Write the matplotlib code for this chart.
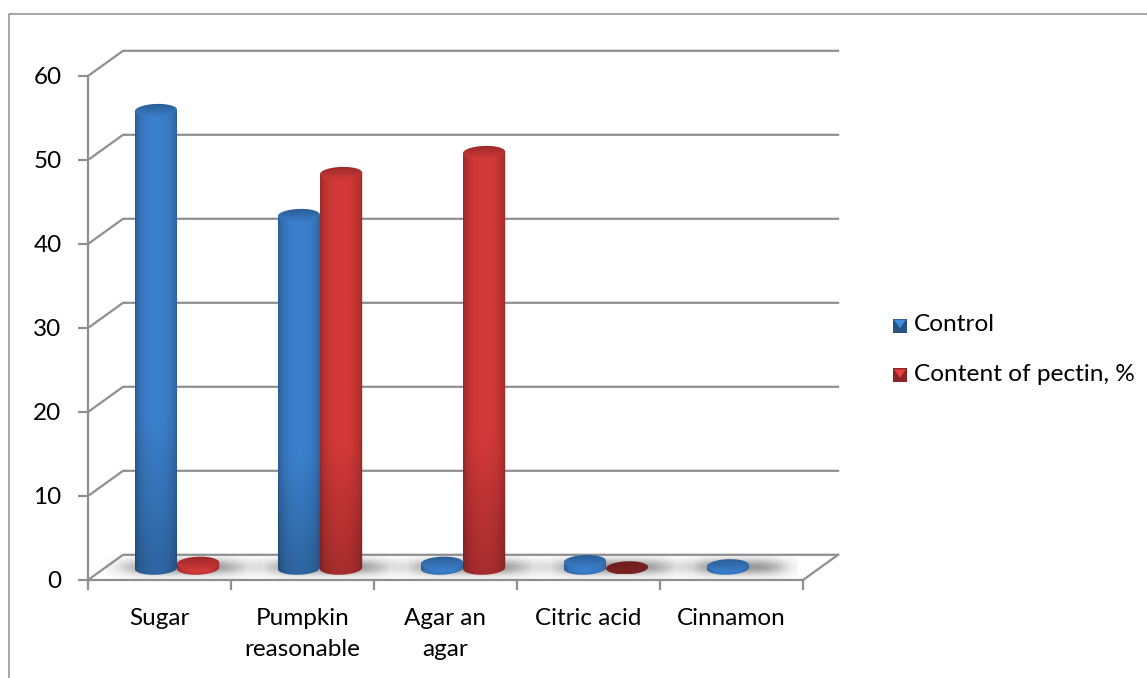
import numpy as np
import matplotlib
matplotlib.use('Agg')
import matplotlib.pyplot as plt
from matplotlib.patches import PathPatch, Polygon, Rectangle
from matplotlib.path import Path
from matplotlib.legend_handler import HandlerBase
from matplotlib.lines import Line2D

plt.rcParams['font.family'] = ['Lato', 'DejaVu Sans']

categories = ['Sugar', 'Pumpkin\nreasonable', 'Agar an\nagar', 'Citric acid', 'Cinnamon']
control = [54.5, 42, 0.6, 0.8, 0.3]
pectin = [0.6, 47, 49.5, 0.05, None]
y_ticks = [0, 10, 20, 30, 40, 50, 60]
series_names = ['Control', 'Content of pectin, %']

BLUE = np.array([58, 125, 200]) / 255
RED = np.array([208, 56, 56]) / 255
GREY = '#8f8f8f'

W, H = 1147, 678
# chart depth and bar size, in data units (1 category = 143 px, 1 y unit = 8.4 px)
DX, DY = 0.245, 3.0
BAR_W = 0.295
ELL_H = 1.55
TILT = 0.6  # the ellipses lean up to the right a little


def ellipse_xy(x, y):
    theta = np.linspace(0, 2 * np.pi, 80)
    xs = x + BAR_W / 2 * np.cos(theta)
    ys = y + ELL_H / 2 * np.sin(theta) + TILT * (xs - x)
    return np.c_[xs, ys]


def top_cap(ax, x, y, c_top, c_bottom, z):
    # ellipse filled with a vertical gradient
    pts = ellipse_xy(x, y)
    clip = PathPatch(Path(pts), fc='none', ec='none', transform=ax.transData)
    ax.add_patch(clip)
    v = np.linspace(0, 1, 30)[:, None, None]
    img = (1 - v) * c_top + v * c_bottom
    im = ax.imshow(img, extent=[x - BAR_W / 2, x + BAR_W / 2, pts[:, 1].min(), pts[:, 1].max()],
                   aspect='auto', zorder=z, interpolation='bilinear')
    im.set_clip_path(clip)


def cylinder(ax, x, val, color, z):
    left, right = x - BAR_W / 2, x + BAR_W / 2
    base = DY / 2 - 0.1
    top = base + val
    if val > 0.2:
        # side of the cylinder, shaded across and darker near the floor
        u = np.linspace(-1, 1, 60)
        across = 0.55 + 0.47 * np.sqrt(1 - (u * 0.97) ** 2) ** 0.7
        v = np.linspace(0, 1, 80)
        down = 0.78 + 0.22 * np.clip(v * 3, 0, 1)
        img = np.clip(np.outer(down[::-1], across)[:, :, None] * color, 0, 1)
        theta = np.linspace(np.pi, 2 * np.pi, 40)
        xs = np.r_[x + BAR_W / 2 * np.cos(theta), right, left]
        ys = np.r_[base + ELL_H / 2 * np.sin(theta) + TILT * (x + BAR_W / 2 * np.cos(theta) - x),
                   top + TILT * BAR_W / 2, top - TILT * BAR_W / 2]
        clip = PathPatch(Path(np.c_[xs, ys]), fc='none', ec='none', transform=ax.transData)
        ax.add_patch(clip)
        im = ax.imshow(img, extent=[left, right, base - ELL_H, top + ELL_H], aspect='auto', zorder=z,
                       interpolation='bilinear')
        im.set_clip_path(clip)
        top_cap(ax, x, top, color * 0.74, color * 1.0, z + 0.1)
    else:
        # flat disc lying on the floor
        top_cap(ax, x, top, color * 0.52, color * 0.6, z)


def shadow(ax, x0, x1):
    yy, xx = np.mgrid[-1:1:40j, -1:1:160j]
    a = np.exp(-(np.abs(xx) ** 4 * 2.5 + np.abs(yy) ** 2 * 2.2)) * 0.8
    img = np.zeros((40, 160, 4))
    img[..., :3] = 0.5
    img[..., 3] = a
    ax.imshow(img, extent=[x0, x1, 0.15, 2.95], aspect='auto', zorder=1.5, interpolation='bilinear')


class SquareHandler(HandlerBase):
    def create_artists(self, legend, orig, xd, yd, width, height, fontsize, trans):
        c = np.array(orig.get_facecolor()[:3])
        s = 10
        sq = Rectangle((0, -1), s, s, fc=c * 0.66, ec='none', transform=trans)
        tri = Polygon([(0.7, s - 1.7), (s - 0.7, s - 1.7), (s / 2, 2.2)], fc=np.clip(c * 1.12, 0, 1), ec='none',
                      transform=trans)
        return [sq, tri]


fig = plt.figure(figsize=(W / 100, H / 100), dpi=100)
ax = fig.add_axes([88 / W, (H - 580) / H, 715 / W, 504 / H])
ax.patch.set_alpha(0)

# outer chart frame
fig.add_artist(Line2D([8.5 / W, 8.5 / W, 1], [0, (H - 14) / H, (H - 14) / H], color=GREY, lw=1.1))

# walls: gridlines run along the side wall and the back wall
n = len(categories)
for t in y_ticks:
    ax.plot([0, DX, n + DX], [t, t + DY, t + DY], color=GREY, lw=1.6, clip_on=False, zorder=1)
ax.plot([n, n + DX], [0, DY], color=GREY, lw=1.6, clip_on=False, zorder=1)

for i in range(n):
    c = i + 0.5 + DX / 2
    has_pectin = pectin[i] is not None
    shadow(ax, c - BAR_W - 0.2, (c + BAR_W + 0.3) if has_pectin else (c + 0.34))
    # red first so that the blue cylinder overlaps it on the small values
    if has_pectin:
        cylinder(ax, c + BAR_W / 2, pectin[i], RED, 2.0)
    cylinder(ax, c - BAR_W / 2, control[i], BLUE, 3.0)

ax.set_xlim(0, n)
ax.set_ylim(0, 60)
for s in ['top', 'right']:
    ax.spines[s].set_visible(False)
for s in ['left', 'bottom']:
    ax.spines[s].set_color(GREY)
    ax.spines[s].set_linewidth(1.6)
ax.set_yticks(y_ticks)
ax.set_xticks(range(n + 1))
ax.set_xticklabels([])
ax.set_xticks(np.arange(n) + 0.5, categories, minor=True)
ax.tick_params(axis='y', length=7, width=1.6, color=GREY, labelsize=17.5, pad=12, labelcolor='black')
ax.tick_params(axis='x', which='major', length=7, width=1.6, color=GREY)
ax.tick_params(axis='x', which='minor', length=0, labelsize=17.5, pad=20, labelcolor='black')
for lab in ax.get_xticklabels(minor=True):
    lab.set_linespacing(1.6)

handles = [Rectangle((0, 0), 1, 1, fc=BLUE), Rectangle((0, 0), 1, 1, fc=RED)]
fig.legend(handles, series_names, handler_map={Rectangle: SquareHandler()}, frameon=False,
           loc='center left', bbox_to_anchor=(893 / W, (H - 349.5) / H), fontsize=17.6,
           handlelength=0.6, handletextpad=0.25, labelspacing=1.17, borderaxespad=0, borderpad=0)

fig.savefig('out.png', dpi=100)
